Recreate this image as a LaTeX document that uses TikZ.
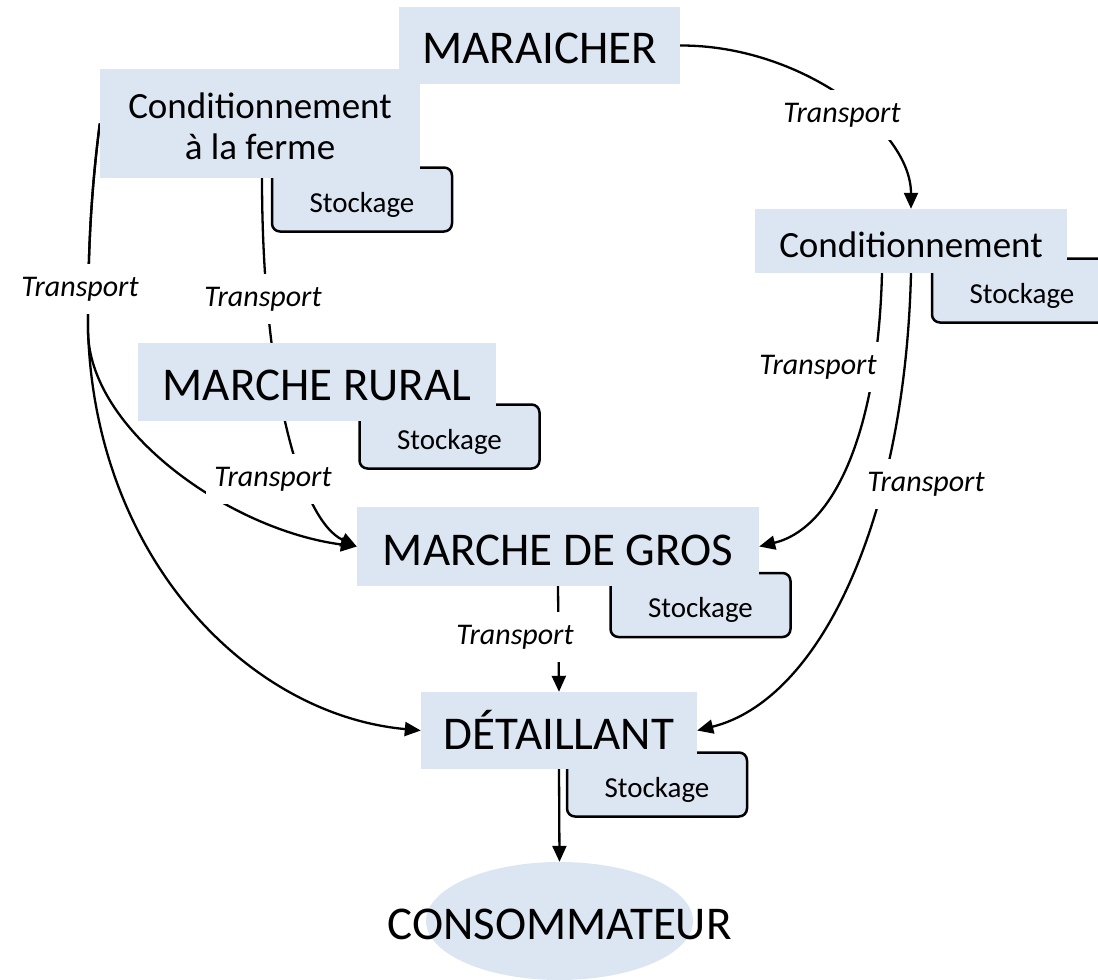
\documentclass[tikz,border=0pt]{standalone}
\usepackage{fontspec}
\setmainfont{Carlito}
\usetikzlibrary{arrows.meta,backgrounds,shapes.geometric}
\definecolor{boxblue}{RGB}{220,230,242}

\begin{document}
\begin{tikzpicture}[x=1pt,y=-1pt,
    etape/.style={fill=boxblue,inner sep=0pt,text height=37pt,text depth=0pt,font=\fontsize{47}{52}\selectfont},
    stock/.style={draw,line width=2.5pt,rounded corners=8pt,fill=boxblue,inner sep=0pt,
      text height=25pt,text depth=0pt,minimum width=180pt,minimum height=64pt,font=\fontsize{29}{32}\selectfont},
    transp/.style={fill=white,inner xsep=8pt,inner ysep=13pt,font=\fontsize{30}{34}\selectfont\itshape},
    fleche/.style={line width=2.3pt,-{Triangle[length=16pt,width=14pt]}}]
  \useasboundingbox (0,0) rectangle (1098,980);
  % stockage first, the boxes hide their corner
  \node[stock] (s1) at (362,199.5) {Stockage};
  \node[stock] (s2) at (1022,290.5) {Stockage};
  \node[stock] (s3) at (449.5,436.5) {Stockage};
  \node[stock] (s4) at (700.5,605) {Stockage};
  \node[stock] (s5) at (657,784.5) {Stockage};
  \node[etape,minimum width=281pt,minimum height=77pt,text height=36pt] (mar) at (539.5,45.5) {MARAICHER};
  \node[etape,minimum width=320pt,minimum height=109pt,align=center,text height=,text depth=,font=\fontsize{37}{41}\selectfont] (cf) at (260,123.5) {\rule{0pt}{32pt}Conditionnement\\à la ferme};
  \node[etape,minimum width=312pt,minimum height=64pt,text height=32pt,font=\fontsize{37}{41}\selectfont] (cond) at (911,241) {Conditionnement};
  \node[etape,minimum width=358pt,minimum height=78pt] (mr) at (317,382) {MARCHE RURAL};
  \node[etape,minimum width=402pt,minimum height=79pt] (mdg) at (558,546.5) {MARCHE DE GROS};
  \node[etape,minimum width=276pt,minimum height=77pt] (det) at (559,730.5) {DÉTAILLANT};
  \node[ellipse,fill=boxblue,inner sep=0pt,minimum width=267pt,minimum height=118pt] (cons) at (559.5,921) {};
  \node[text height=37pt,text depth=0pt,font=\fontsize{47}{52}\selectfont] (constxt) at (cons.center) {CONSOMMATEUR};
  \begin{scope}[on background layer]
    \draw[fleche] (mar.east) .. controls (800,45) and (911,129) .. (cond.north);
    \draw[fleche] (cf.west) .. controls (90,200) and (88,260) .. (88,330) .. controls (88,430) and (230,530) .. (mdg.west);
    \draw[fleche] (cf.west) .. controls (90,200) and (88,260) .. (88,330) .. controls (95,560) and (250,715) .. (det.west);
    \draw[fleche] ([xshift=2pt]cf.south) .. controls (262,380) and (300,520) .. (mdg.west);
    \draw[fleche] ([xshift=-29pt]cond.south) .. controls (878,430) and (835,528) .. (mdg.east);
    \draw[fleche] (cond.south) .. controls (905,520) and (820,700) .. (det.east);
    \draw[fleche] (mdg.south) -- (det.north);
    \draw[fleche] (det.south) -- (cons.north);
    \node[transp] (t1) at (842,115) {Transport};
    \node[transp] (t2) at (80,289) {Transport};
    \node[transp] (t3) at (263,299) {Transport};
    \node[transp] (t4) at (273,479) {Transport};
    \node[transp] (t5) at (818,367) {Transport};
    \node[transp] (t6) at (926,484) {Transport};
    \node[transp] (t7) at (515,637) {Transport};
  \end{scope}
\end{tikzpicture}
\end{document}
